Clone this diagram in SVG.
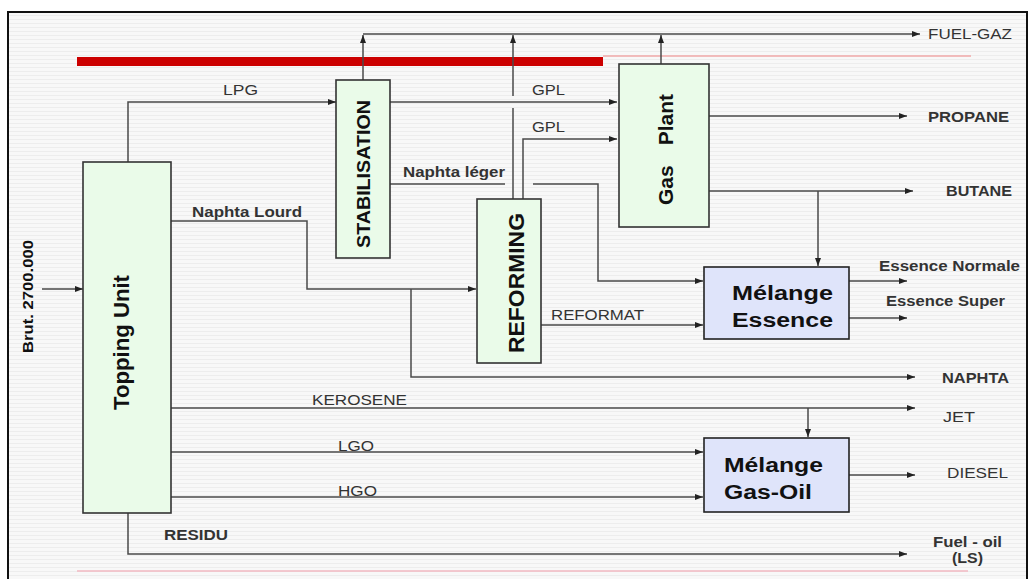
<svg xmlns="http://www.w3.org/2000/svg" width="1030" height="579" viewBox="0 0 1030 579">
<defs>
<pattern id="stripes" width="8" height="4" patternUnits="userSpaceOnUse">
<rect width="8" height="4" fill="#f8f8f8"/>
<rect y="3" width="8" height="1" fill="#ededed"/>
</pattern>
<marker id="ah" viewBox="0 0 8 6" refX="8" refY="3" markerWidth="8" markerHeight="6" markerUnits="userSpaceOnUse" orient="auto">
<path d="M0,0 L8,3 L0,6 z" fill="#222"/>
</marker>
</defs>
<style>
.ln{fill:none;stroke:#4a4a4a;stroke-width:1.5}
.ar{marker-end:url(#ah)}
.unit{fill:#eafbe9;stroke:#333;stroke-width:1.6}
.mix{fill:#dfe4fa;stroke:#222;stroke-width:1.6}
.lb{font-family:"Liberation Sans",Arial,sans-serif;font-size:14px;fill:#333}
.lbb{font-family:"Liberation Sans",Arial,sans-serif;font-size:14px;font-weight:bold;fill:#333}
.tt{font-family:"Liberation Sans",Arial,sans-serif;font-weight:bold;fill:#111}
</style>
<rect x="0" y="0" width="1030" height="579" fill="#fff"/>
<rect x="8" y="12" width="1019" height="580" fill="url(#stripes)" stroke="#111" stroke-width="2"/>
<rect x="77" y="57" width="526" height="9" fill="#cc0000"/>
<path d="M603,56 H971" stroke="#f0a8a8" stroke-width="1.5"/>
<path d="M77,571 H968" stroke="#f2b8c2" stroke-width="1.5"/>

<g id="connectors">
<path class="ln ar" d="M42,289 H83"/>
<path class="ln ar" d="M128,162 V102 H336"/>
<path class="ln ar" d="M363,80 V35"/>
<path class="ln" d="M513,199 V108"/>
<path class="ln ar" d="M513,96 V35"/>
<path class="ln ar" d="M661,64 V35"/>
<path class="ln ar" d="M363,34 H920"/>
<path class="ln ar" d="M390,102 H617"/>
<path class="ln ar" d="M523,199 V139 H617"/>
<path class="ln" d="M390,184 H505"/>
<path class="ln ar" d="M533,184 H598 V281 H703"/>
<path class="ln ar" d="M171,221 H307 V289 H476"/>
<path class="ln ar" d="M411,289 V377 H915"/>
<path class="ln ar" d="M541,325 H703"/>
<path class="ln ar" d="M709,116 H907"/>
<path class="ln ar" d="M709,191 H913"/>
<path class="ln ar" d="M818,191 V266"/>
<path class="ln ar" d="M849,281 H907"/>
<path class="ln ar" d="M849,318 H907"/>
<path class="ln ar" d="M171,408 H915"/>
<path class="ln ar" d="M808,408 V437"/>
<path class="ln ar" d="M171,452 H703"/>
<path class="ln ar" d="M171,497 H703"/>
<path class="ln ar" d="M849,475 H915"/>
<path class="ln ar" d="M128,513 V554 H907"/>
</g>

<g id="labels">
<text class="lb" x="223" y="95" textLength="35" lengthAdjust="spacingAndGlyphs">LPG</text>
<text class="lb" x="532" y="95" textLength="33" lengthAdjust="spacingAndGlyphs">GPL</text>
<text class="lb" x="532" y="132" textLength="33" lengthAdjust="spacingAndGlyphs">GPL</text>
<text class="lbb" x="403" y="177" textLength="102" lengthAdjust="spacingAndGlyphs">Naphta léger</text>
<text class="lbb" x="192" y="217" textLength="110" lengthAdjust="spacingAndGlyphs">Naphta Lourd</text>
<text class="lb" x="551" y="320" textLength="93" lengthAdjust="spacingAndGlyphs">REFORMAT</text>
<text class="lb" x="312" y="405" textLength="95" lengthAdjust="spacingAndGlyphs">KEROSENE</text>
<text class="lb" x="338" y="451" textLength="36" lengthAdjust="spacingAndGlyphs">LGO</text>
<text class="lb" x="338" y="496" textLength="39" lengthAdjust="spacingAndGlyphs">HGO</text>
<text class="lbb" x="164" y="540" textLength="64" lengthAdjust="spacingAndGlyphs">RESIDU</text>
<text class="lb" x="928" y="39" textLength="84" lengthAdjust="spacingAndGlyphs">FUEL-GAZ</text>
<text class="lbb" x="928" y="122" textLength="81" lengthAdjust="spacingAndGlyphs">PROPANE</text>
<text class="lbb" x="946" y="196" textLength="66" lengthAdjust="spacingAndGlyphs">BUTANE</text>
<text class="lbb" x="879" y="271" font-size="13" textLength="141" lengthAdjust="spacingAndGlyphs">Essence Normale</text>
<text class="lbb" x="886" y="306" font-size="13" textLength="119" lengthAdjust="spacingAndGlyphs">Essence Super</text>
<text class="lbb" x="942" y="383" textLength="67" lengthAdjust="spacingAndGlyphs">NAPHTA</text>
<text class="lb" x="943" y="422" textLength="32" lengthAdjust="spacingAndGlyphs">JET</text>
<text class="lb" x="947" y="478" textLength="61" lengthAdjust="spacingAndGlyphs">DIESEL</text>
<text class="lbb" x="933" y="547" textLength="69" lengthAdjust="spacingAndGlyphs">Fuel - oil</text>
<text class="lbb" x="952" y="563" textLength="31" lengthAdjust="spacingAndGlyphs">(LS)</text>
<text class="tt" font-size="15" transform="translate(33,353) rotate(-90)" textLength="113" lengthAdjust="spacingAndGlyphs">Brut. 2700.000</text>
</g>

<g id="topping">
<rect class="unit" x="83" y="162" width="88" height="351"/>
<text class="tt" font-size="22" transform="translate(129,410) rotate(-90)" textLength="135" lengthAdjust="spacingAndGlyphs">Topping Unit</text>
</g>
<g id="stabilisation">
<rect class="unit" x="336" y="80" width="54" height="178"/>
<text class="tt" font-size="18" transform="translate(370,248) rotate(-90)" textLength="148" lengthAdjust="spacingAndGlyphs">STABILISATION</text>
</g>
<g id="reforming">
<rect class="unit" x="477" y="199" width="64" height="164"/>
<text class="tt" font-size="22" transform="translate(524,353) rotate(-90)" textLength="140" lengthAdjust="spacingAndGlyphs">REFORMING</text>
</g>
<g id="gasplant">
<rect class="unit" x="619" y="64" width="90" height="163"/>
<text class="tt" font-size="21" transform="translate(673,205) rotate(-90)">Gas<tspan dx="20">Plant</tspan></text>
</g>
<g id="melange-essence">
<rect class="mix" x="704" y="267" width="145" height="72"/>
<text class="tt" font-size="20" x="732" y="300" textLength="101" lengthAdjust="spacingAndGlyphs">Mélange</text>
<text class="tt" font-size="20" x="732" y="327" textLength="101" lengthAdjust="spacingAndGlyphs">Essence</text>
</g>
<g id="melange-gasoil">
<rect class="mix" x="704" y="438" width="145" height="74"/>
<text class="tt" font-size="20" x="724" y="472" textLength="99" lengthAdjust="spacingAndGlyphs">Mélange</text>
<text class="tt" font-size="20" x="724" y="499" textLength="88" lengthAdjust="spacingAndGlyphs">Gas-Oil</text>
</g>
</svg>
